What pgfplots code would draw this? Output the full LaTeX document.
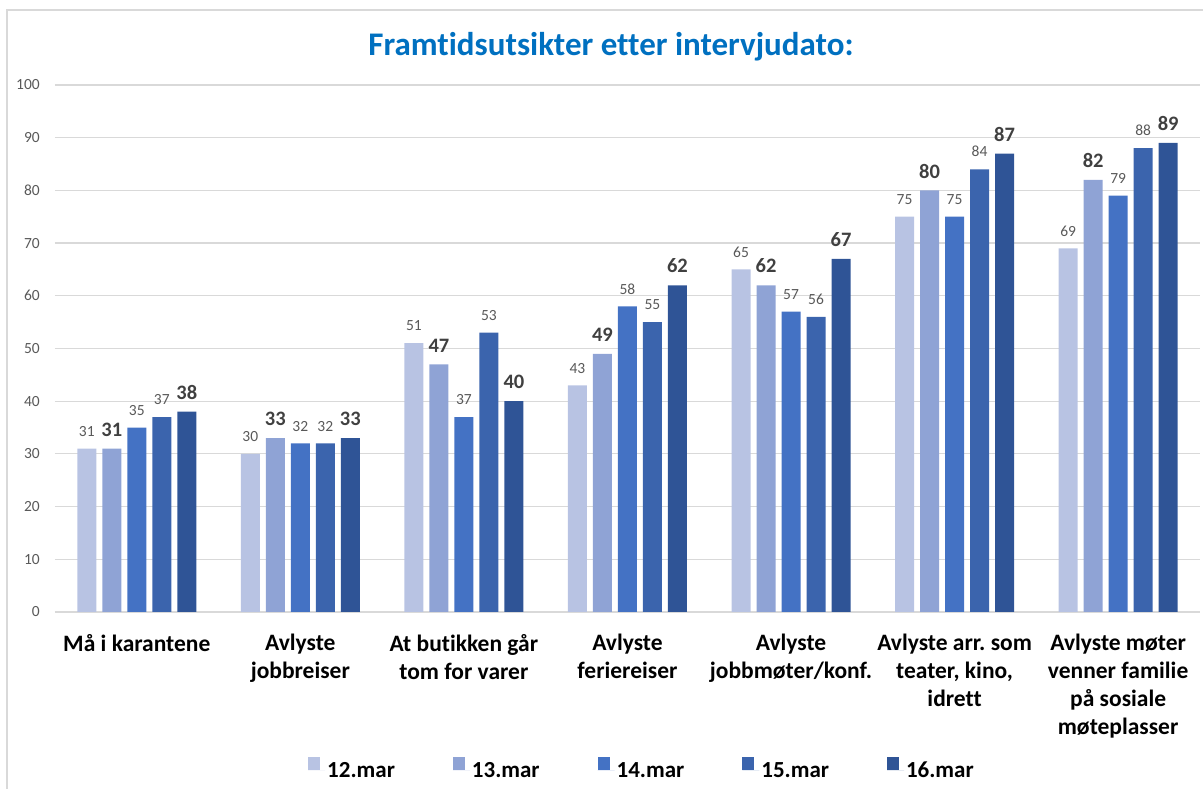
\documentclass[border=0pt]{standalone}
\usepackage{pgfplots}
\pgfplotsset{compat=1.18}
\usepackage{fontspec}
\setmainfont{Carlito}[Ligatures={NoCommon}]
\frenchspacing
\definecolor{cA}{HTML}{B8C3E3}
\definecolor{cB}{HTML}{8FA3D5}
\definecolor{cC}{HTML}{4472C4}
\definecolor{cD}{HTML}{3B64AD}
\definecolor{cE}{HTML}{2F5496}
\definecolor{titleblue}{HTML}{0070C0}
\definecolor{gridgray}{HTML}{D9D9D9}
\definecolor{lblgray}{HTML}{595959}
\definecolor{boldlbl}{HTML}{404040}
\begin{document}
\begin{tikzpicture}
\useasboundingbox (-55pt,-177pt) rectangle (1148pt,612pt);
\draw[color=gridgray, line width=1.2pt] (-48pt,-177pt) -- (-48pt,602pt) -- (1148pt,602pt);
\begin{axis}[
  at={(0pt,0pt)}, anchor=south west,
  scale only axis, width=1145pt, height=527pt,
  ybar=6pt, bar width=19pt,
  xmin=-0.5, xmax=6.5, ymin=0, ymax=100,
  xtick={0,...,6},
  xticklabels={{Må i karantene},{Avlyste\\jobbreiser},{At butikken går\\tom for varer},{Avlyste\\feriereiser},{Avlyste\\jobbmøter/konf.},{Avlyste arr.\ som\\teater, kino,\\idrett},{Avlyste møter\\venner familie\\på sosiale\\møteplasser}},
  ytick={0,10,...,100},
  ymajorgrids, major grid style={color=gridgray, line width=1.2pt},
  axis line style={draw=none},
  major tick length=0pt,
  /pgf/number format/assume math mode=true,
  xticklabel style={font=\fontsize{23.5}{28}\selectfont\bfseries, align=center, anchor=north, inner sep=0pt, yshift=-22pt, text=black},
  yticklabel style={font=\fontsize{15.5}{17}\selectfont, text=lblgray, anchor=east, inner sep=0pt, xshift=-15pt},
  legend columns=5,
  legend style={at={(0.5127,-0.298)}, anchor=center, draw=none, fill=none,
    font=\fontsize{23}{26}\selectfont\bfseries,
    /tikz/every even column/.append style={column sep=56pt},
    inner sep=0pt},
  legend cell align=left,
  legend image code/.code={\fill[#1] (0pt,1pt) rectangle (12pt,14pt); \path (0pt,0pt) -- (17pt,0pt);},
]
\addplot[fill=cA, draw=none, nodes near coords, every node near coord/.append style={font=\fontsize{15.5}{17}\selectfont, text=lblgray, anchor=south, inner sep=0pt, yshift=12pt}]
  coordinates {(0,31) (1,30) (2,51) (3,43) (4,65) (5,75) (6,69)};
\addplot[fill=cB, draw=none, nodes near coords, every node near coord/.append style={font=\fontsize{20.5}{22}\selectfont\bfseries, text=boldlbl, anchor=south, inner sep=0pt, yshift=12pt}]
  coordinates {(0,31) (1,33) (2,47) (3,49) (4,62) (5,80) (6,82)};
\addplot[fill=cC, draw=none, nodes near coords, every node near coord/.append style={font=\fontsize{15.5}{17}\selectfont, text=lblgray, anchor=south, inner sep=0pt, yshift=12pt}]
  coordinates {(0,35) (1,32) (2,37) (3,58) (4,57) (5,75) (6,79)};
\addplot[fill=cD, draw=none, nodes near coords, every node near coord/.append style={font=\fontsize{15.5}{17}\selectfont, text=lblgray, anchor=south, inner sep=0pt, yshift=12pt}]
  coordinates {(0,37) (1,32) (2,53) (3,55) (4,56) (5,84) (6,88)};
\addplot[fill=cE, draw=none, nodes near coords, every node near coord/.append style={font=\fontsize{20.5}{22}\selectfont\bfseries, text=boldlbl, anchor=south, inner sep=0pt, yshift=12pt}]
  coordinates {(0,38) (1,33) (2,40) (3,62) (4,67) (5,87) (6,89)};
\legend{12.mar,13.mar,14.mar,15.mar,16.mar}
\end{axis}
\node[font=\fontsize{33}{36}\selectfont\bfseries, text=titleblue] at (556pt,565pt) {Framtidsutsikter etter intervjudato:};
\end{tikzpicture}
\end{document}
